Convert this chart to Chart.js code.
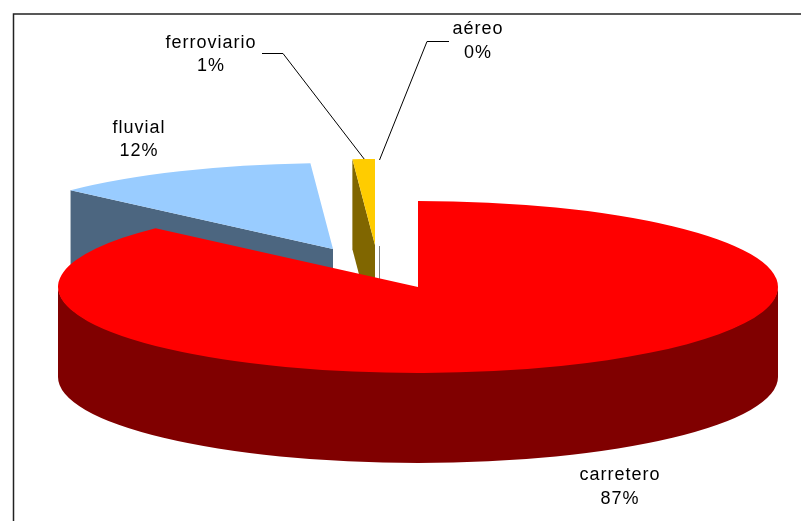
<!DOCTYPE html>
<html>
<head>
<meta charset="utf-8">
<title>Transporte</title>
<script src="https://cdn.jsdelivr.net/npm/chart.js@4/dist/chart.umd.js"></script>
<style>
  html, body { margin: 0; padding: 0; background: #fff; overflow: hidden; }
  canvas { display: block; }
</style>
</head>
<body>
<canvas id="chart-modes" width="801" height="521"></canvas>
<script>
const categories = ['carretero', 'fluvial', 'ferroviario', 'aéreo'];
const shares = [87, 12, 1, 0];

const topColors = ['#ff0000', '#99ccff', '#ffcc00', '#ff99cc'];
const sideColors = ['#800000', '#4c6680', '#806600', '#808080'];

// Tilted disc: ellipse centre, radii and wall height, in canvas pixels
const PIE = { cx: 418, cy: 287, rx: 360, ry: 86, depth: 90 };
// Pulled-out slices, shifted on screen
const sliceShift = [[0, 0], [-85, -38], [-43, -42], [-39, -41]];
// Back slices first so the big slice covers them
const paintOrder = [1, 2, 3, 0];

// Label block centres: [x, first line y, second line y]
const labelPos = [[620, 475, 499], [139, 128, 151], [211, 43, 66], [478, 29, 53]];
// Leader elbows, from label side towards the slice
const leaders = { 2: [[262, 53.5], [283, 53.5]], 3: [[449, 41.5], [427, 41.5]] };

function slicePoint(i, angle) {
    return [
        PIE.cx + sliceShift[i][0] + Math.cos(angle) * PIE.rx,
        PIE.cy + sliceShift[i][1] + Math.sin(angle) * PIE.ry
    ];
}

function drawFace(ctx, i, angle) {
    const tipX = PIE.cx + sliceShift[i][0];
    const tipY = PIE.cy + sliceShift[i][1];
    const [px, py] = slicePoint(i, angle);
    ctx.fillStyle = sideColors[i];
    ctx.beginPath();
    ctx.moveTo(tipX, tipY);
    ctx.lineTo(px, py);
    ctx.lineTo(px, py + PIE.depth);
    ctx.lineTo(tipX, tipY + PIE.depth);
    ctx.closePath();
    ctx.fill();
}

function drawRim(ctx, i, start, end) {
    // Only the lower half of the disc has a visible outer wall
    const from = Math.max(start, 0);
    const to = Math.min(end, Math.PI);
    if (to <= from) return;
    const x = PIE.cx + sliceShift[i][0];
    const y = PIE.cy + sliceShift[i][1];
    ctx.fillStyle = sideColors[i];
    ctx.beginPath();
    // Starts a pixel high so no pale seam shows under the top face
    ctx.ellipse(x, y - 1, PIE.rx, PIE.ry, 0, from, to);
    ctx.ellipse(x, y + PIE.depth, PIE.rx, PIE.ry, 0, to, from, true);
    ctx.closePath();
    ctx.fill();
}

const pie3d = {
    id: 'pie3d',
    beforeDraw(chart) {
        const { ctx } = chart;
        ctx.save();
        ctx.strokeStyle = '#222';
        ctx.lineWidth = 1.5;
        ctx.strokeRect(13.5, 14, 900, 900);
        ctx.restore();
    },
    beforeDatasetsDraw(chart) {
        const { ctx } = chart;
        const arcs = chart.getDatasetMeta(0).data;

        paintOrder.forEach(i => {
            const arc = arcs[i];
            const { startAngle, endAngle, outerRadius } = arc.getProps(['startAngle', 'endAngle', 'outerRadius']);

            if (endAngle === startAngle) {
                // Empty slice still shows its edge as a hairline
                const x = Math.round(PIE.cx + sliceShift[i][0]) + 0.5;
                const y = PIE.cy + sliceShift[i][1];
                ctx.strokeStyle = sideColors[i];
                ctx.lineWidth = 1;
                ctx.beginPath();
                ctx.moveTo(x, y);
                ctx.lineTo(x, y + PIE.depth);
                ctx.stroke();
                return;
            }

            if (Math.cos(startAngle) < -1e-6) drawFace(ctx, i, startAngle);
            if (Math.cos(endAngle) > 1e-6) drawFace(ctx, i, endAngle);
            drawRim(ctx, i, startAngle, endAngle);

            // Top of the slice: the library's own arc, squashed into the ellipse
            ctx.save();
            ctx.translate(PIE.cx + sliceShift[i][0], PIE.cy + sliceShift[i][1]);
            ctx.scale(PIE.rx / outerRadius, PIE.ry / outerRadius);
            ctx.translate(-arc.x, -arc.y);
            arc.draw(ctx);
            ctx.restore();
        });
        // Default flat drawing is skipped
        return false;
    },
    afterDraw(chart) {
        const { ctx } = chart;
        const arcs = chart.getDatasetMeta(0).data;

        // Leader lines end on the middle of each small slice's outer edge
        ctx.save();
        ctx.strokeStyle = '#000';
        ctx.lineWidth = 1;
        Object.keys(leaders).forEach(key => {
            const i = Number(key);
            const mid = (arcs[i].startAngle + arcs[i].endAngle) / 2;
            const [ex, ey] = slicePoint(i, mid);
            ctx.beginPath();
            leaders[i].forEach(([x, y], n) => n ? ctx.lineTo(x, y) : ctx.moveTo(x, y));
            ctx.lineTo(ex + 0.5, ey);
            ctx.stroke();
        });

        ctx.fillStyle = '#000';
        ctx.font = '18px "Liberation Sans", Arial, sans-serif';
        ctx.letterSpacing = '1px';
        ctx.textAlign = 'center';
        ctx.textBaseline = 'middle';
        categories.forEach((name, i) => {
            const [x, y1, y2] = labelPos[i];
            ctx.fillText(name, x, y1);
            ctx.fillText(shares[i] + '%', x, y2);
        });
        ctx.restore();
    }
};

new Chart(document.getElementById('chart-modes'), {
    type: 'pie',
    data: {
        labels: categories,
        datasets: [{
            data: shares,
            backgroundColor: topColors,
            borderWidth: 0
        }]
    },
    options: {
        responsive: false,
        animation: false,
        plugins: { legend: { display: false }, tooltip: { enabled: false } }
    },
    plugins: [pie3d]
});
</script>
</body>
</html>
